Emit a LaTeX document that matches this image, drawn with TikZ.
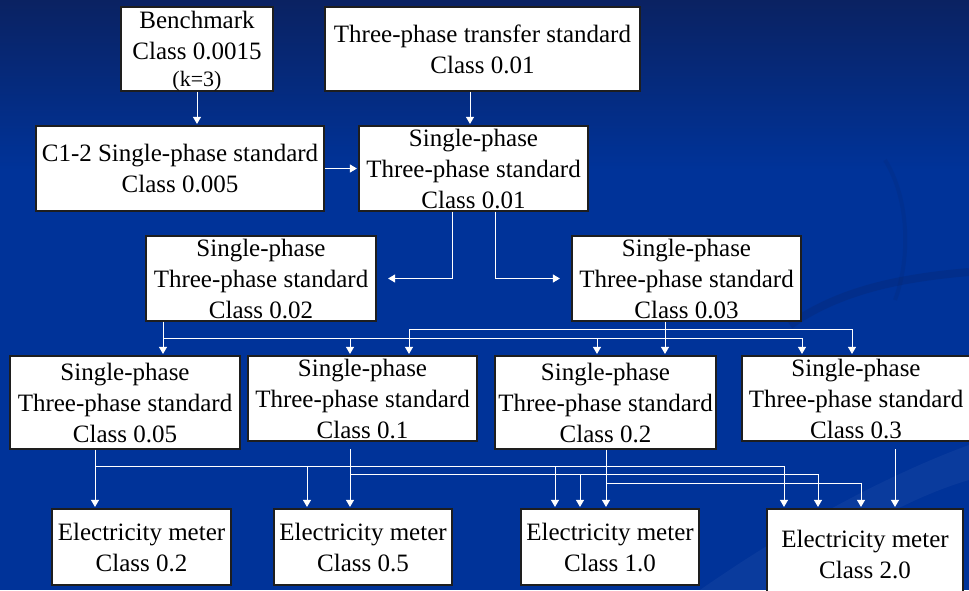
\documentclass[tikz,border=0pt]{standalone}
\usepackage{fontspec}
\setmainfont{Liberation Serif}
\usetikzlibrary{arrows.meta,calc}
\definecolor{bgtop}{RGB}{10,34,98}
\definecolor{bgmain}{RGB}{0,51,153}
\definecolor{boxline}{RGB}{30,30,30}
\tikzset{
  box/.style={draw=boxline, fill=white, line width=1.2pt, inner sep=0pt, align=center,
    font=\fontsize{25}{31}\selectfont, text=black},
  wire/.style={draw=white, line width=0.9pt},
  arr/.style={wire, -{Triangle[width=8pt,length=7pt]}, shorten >=1.5pt},
}
\begin{document}
\begin{tikzpicture}[x=1pt,y=-1pt]
\useasboundingbox (0,0) rectangle (969,590);
% background
\fill[bgmain] (0,0) rectangle (969,590);
\shade[top color=bgtop, bottom color=bgmain] (0,0) rectangle (969,170);
\fill[white, opacity=0.04] (700,590) .. controls (800,520) and (900,470) .. (969,445)
  -- (969,480) .. controls (900,500) and (820,550) .. (770,590) -- cycle;
\draw[bgtop, opacity=0.25, line width=8pt] (790,325) .. controls (840,290) and (900,278) .. (969,272);
\draw[bgtop, opacity=0.15, line width=4pt] (885,160) .. controls (910,200) and (910,260) .. (895,300);

% nodes
\node[box, minimum width=152pt, minimum height=84pt] (bench) at (197,49)
  {Benchmark\\Class 0.0015\\[-4pt]{\fontsize{22}{24}\selectfont\raisebox{0pt}[\height][0pt]{(k=3)}}};
\node[box, minimum width=315pt, minimum height=84pt] (transfer) at (482.5,49)
  {Three-phase transfer standard\\Class 0.01};
\node[box, minimum width=288pt, minimum height=85pt] (c12) at (180,168.5)
  {C1-2 Single-phase standard\\Class 0.005};
\node[box, minimum width=229pt, minimum height=85pt] (s01) at (473.5,168.5)
  {Single-phase\\Three-phase standard\\Class 0.01};
\node[box, minimum width=230pt, minimum height=85pt] (s02) at (261,278.5)
  {Single-phase\\Three-phase standard\\Class 0.02};
\node[box, minimum width=229pt, minimum height=85pt] (s03) at (686.5,278.5)
  {Single-phase\\Three-phase standard\\Class 0.03};
\node[box, minimum width=230pt, minimum height=93pt] (s05) at (125,402.5)
  {Single-phase\\Three-phase standard\\Class 0.05};
\node[box, minimum width=229pt, minimum height=85pt] (s1) at (362.5,398.5)
  {Single-phase\\Three-phase standard\\Class 0.1};
\node[box, minimum width=221pt, minimum height=93pt] (s2) at (605.5,402.5)
  {Single-phase\\Three-phase standard\\Class 0.2};
\node[box, minimum width=228pt, minimum height=85pt] (s3) at (856,398.5)
  {Single-phase\\Three-phase standard\\Class 0.3};
\node[box, minimum width=179pt, minimum height=76pt] (m02) at (141.5,547)
  {Electricity meter\\Class 0.2};
\node[box, minimum width=178pt, minimum height=76pt] (m05) at (363,547)
  {Electricity meter\\Class 0.5};
\node[box, minimum width=178pt, minimum height=76pt] (m10) at (610,547)
  {Electricity meter\\Class 1.0};
\node[box, minimum width=196pt, minimum height=91pt] (m20) at (865,554.5)
  {Electricity meter\\Class 2.0};

% top connectors
\draw[arr] (bench.south) -- (bench.south |- c12.north);
\draw[arr] (470,0 |- transfer.south) -- (470,0 |- s01.north);
\draw[arr] (c12.east) -- (s01.west);
\draw[arr] (452,0 |- s01.south) |- ([xshift=10pt]s02.east);
\draw[arr] (495,0 |- s01.south) |- ([xshift=-10pt]s03.west);

% from 0.02
\coordinate (busA) at (163,338);
\draw[wire] (163,0 |- s02.south) -- (busA) -- (802,338);
\draw[arr] (busA) -- (busA |- s05.north);
\draw[arr] (350,338) -- (350,0 |- s1.north);
\draw[arr] (597,338) -- (597,0 |- s2.north);
\draw[arr] (802,338) -- (802,0 |- s3.north);

% from 0.03
\draw[arr] (665,0 |- s03.south) -- (665,0 |- s2.north);
\draw[wire] (409,329) -- (852,329);
\draw[arr] (409,329) -- (409,0 |- s1.north);
\draw[arr] (852,329) -- (852,0 |- s3.north);

% from 0.05
\draw[arr] (95,0 |- s05.south) -- (95,0 |- m02.north);
\draw[wire] (95,466) -- (784,466);
\draw[arr] (307,466) -- (307,0 |- m05.north);
\draw[arr] (555,466) -- (555,0 |- m10.north);
\draw[arr] (784,466) -- (784,0 |- m20.north);

% from 0.1
\draw[arr] (350,449) -- (350,0 |- m05.north);
\draw[wire] (350,474) -- (818,474);
\draw[arr] (580,474) -- (580,0 |- m10.north);
\draw[arr] (818,474) -- (818,0 |- m20.north);

% from 0.2
\draw[arr] (606,0 |- s2.south) -- (606,0 |- m10.north);
\draw[wire] (606,483) -- (861,483);
\draw[arr] (861,483) -- (861,0 |- m20.north);

% from 0.3
\draw[arr] (895,449) -- (895,0 |- m20.north);
\end{tikzpicture}
\end{document}
